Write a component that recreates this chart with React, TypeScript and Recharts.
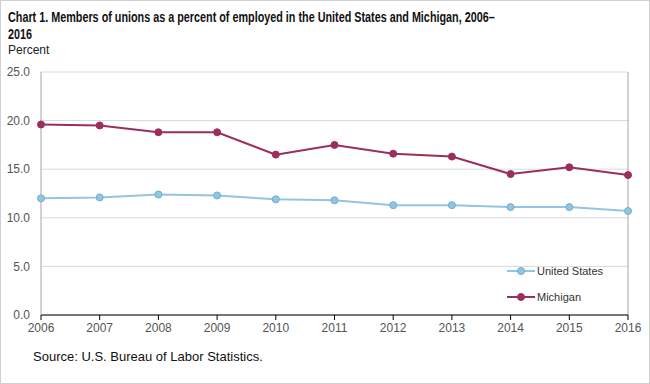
import React from "react";
import { LineChart, Line, XAxis, YAxis, CartesianGrid, ReferenceLine } from "recharts";

const years = ["2006", "2007", "2008", "2009", "2010", "2011", "2012", "2013", "2014", "2015", "2016"];
const unitedStates = [12.0, 12.1, 12.4, 12.3, 11.9, 11.8, 11.3, 11.3, 11.1, 11.1, 10.7];
const michigan = [19.6, 19.5, 18.8, 18.8, 16.5, 17.5, 16.6, 16.3, 14.5, 15.2, 14.4];
const yTicks = [0, 5, 10, 15, 20, 25];

const data = years.map((year, i) => ({ year, us: unitedStates[i], mi: michigan[i] }));

const usColor = "#92c5de";
const usEdge = "#6eaed3";
const miColor = "#9b2e5e";
const labelFont = "'Liberation Sans', Arial, sans-serif";

function LegendRow({ color, edge, label, top }: { color: string; edge: string; label: string; top: number }) {
  return (
    <div style={{ position: "absolute", left: 507, top, height: 14, display: "flex", alignItems: "center" }}>
      <svg width={30} height={14}>
        <line x1={0} y1={7} x2={28} y2={7} stroke={color} strokeWidth={2} />
        <circle cx={14} cy={7} r={3.5} fill={color} stroke={edge} strokeWidth={1} />
      </svg>
      <span style={{ fontSize: 11, color: "#333", fontFamily: labelFont }}>{label}</span>
    </div>
  );
}

export default function App() {
  return (
    <div style={{ position: "relative", width: 650, height: 384, background: "#fff", fontFamily: labelFont }}>
      <style>{"body{margin:0}"}</style>
      <div
        style={{
          position: "absolute",
          left: 8,
          top: 8,
          fontFamily: labelFont,
          fontWeight: "bold",
          fontSize: 15,
          lineHeight: "17px",
          color: "#111",
          whiteSpace: "nowrap",
          transform: "scaleX(0.72)",
          transformOrigin: "left top",
        }}
      >
        Chart 1. Members of unions as a percent of employed in the United States and Michigan, 2006–
        <br />
        2016
      </div>
      <div style={{ position: "absolute", left: 8, top: 43, fontSize: 12, color: "#222" }}>Percent</div>
      <LineChart width={650} height={384} data={data} margin={{ top: 72, right: 22, left: 0, bottom: 49 }}>
        <CartesianGrid vertical={false} stroke="#d9d9d9" />
        <XAxis
          dataKey="year"
          axisLine={{ stroke: "#000" }}
          tickLine={{ stroke: "#000" }}
          tickSize={5}
          tickMargin={3}
          height={20}
          interval={0}
          tick={{ fill: "#555", fontSize: 12, fontFamily: labelFont }}
        />
        <YAxis
          domain={[0, 25]}
          ticks={yTicks}
          width={41}
          axisLine={{ stroke: "#a6a6a6" }}
          tickLine={false}
          tickSize={9}
          tickMargin={2}
          tickFormatter={(v: number) => v.toFixed(1)}
          tick={{ fill: "#555", fontSize: 12, fontFamily: labelFont }}
        />
        <ReferenceLine x="2016" stroke="#a6a6a6" />
        <Line
          dataKey="us"
          stroke={usColor}
          strokeWidth={2}
          dot={{ r: 3.5, fill: usColor, stroke: usEdge, strokeWidth: 1 }}
          isAnimationActive={false}
        />
        <Line
          dataKey="mi"
          stroke={miColor}
          strokeWidth={2}
          dot={{ r: 3.5, fill: miColor, stroke: miColor, strokeWidth: 1 }}
          isAnimationActive={false}
        />
      </LineChart>
      <LegendRow color={usColor} edge={usEdge} label="United States" top={264} />
      <LegendRow color={miColor} edge={miColor} label="Michigan" top={290} />
      <div style={{ position: "absolute", left: 33, top: 349, fontSize: 13, color: "#111" }}>
        Source: U.S. Bureau of Labor Statistics.
      </div>
      <div
        style={{
          position: "absolute",
          left: 0,
          top: 0,
          width: 650,
          height: 384,
          boxSizing: "border-box",
          border: "1px solid #d0d0d0",
          pointerEvents: "none",
        }}
      />
    </div>
  );
}
